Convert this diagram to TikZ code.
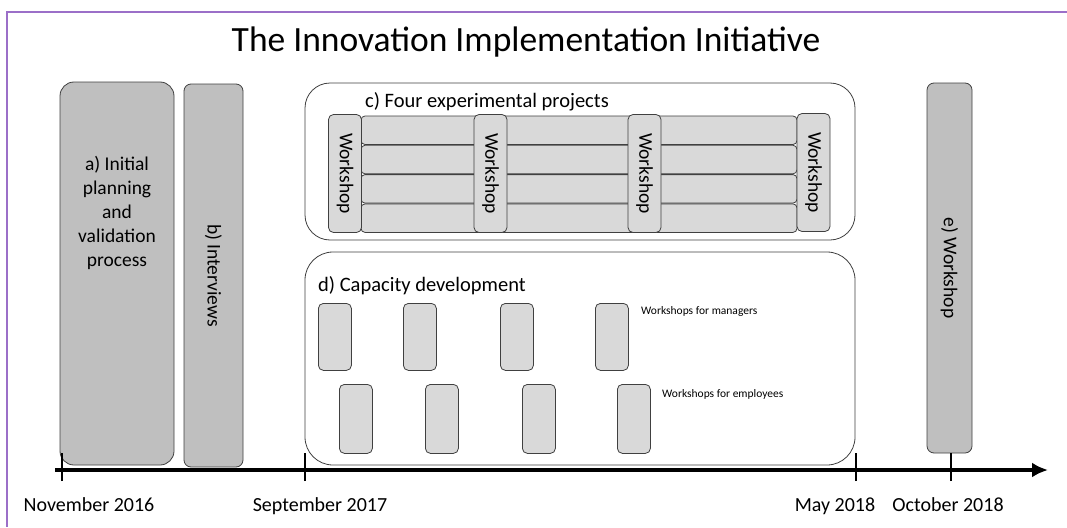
\documentclass[tikz,border=0pt]{standalone}
\usepackage{fontspec}
\setmainfont{Carlito}
\usetikzlibrary{shapes,arrows.meta,positioning}

\definecolor{darkfill}{HTML}{BFBFBF}
\definecolor{lightfill}{HTML}{D9D9D9}
\definecolor{edge}{HTML}{404040}
\definecolor{framecol}{HTML}{9B6FC8}

\begin{document}
\begin{tikzpicture}[x=1pt,y=-1pt]
\tikzset{
phase/.style={rectangle,rounded corners=14pt,draw=edge,fill=darkfill,thick,inner sep=0pt,font=\fontsize{19.5}{24}\selectfont},
slim/.style={rectangle,rounded corners=7pt,draw=edge,fill=darkfill,thick,inner sep=0pt,font=\fontsize{19.5}{24}\selectfont},
group/.style={rectangle,rounded corners=25pt,draw=edge,fill=white,thick,inner sep=0pt},
project/.style={rectangle,rounded corners=4pt,draw=edge,fill=lightfill,thick,inner sep=0pt,minimum width=436pt,minimum height=28.5pt},
wshop/.style={rectangle,rounded corners=5pt,draw=edge,fill=lightfill,thick,inner sep=0pt,rotate=-90,minimum width=118pt,minimum height=33pt,font=\fontsize{19.5}{22}\selectfont},
session/.style={rectangle,rounded corners=5pt,draw=edge,fill=lightfill,thick,inner sep=0pt,minimum width=33pt,anchor=north west},
grouptitle/.style={anchor=west,inner sep=0pt,font=\fontsize{20.5}{24}\selectfont},
smalllabel/.style={anchor=west,inner sep=0pt,font=\fontsize{11.5}{14}\selectfont},
datelabel/.style={anchor=base,inner sep=0pt,font=\fontsize{20}{22}\selectfont},
timeline/.style={-{Latex[length=16pt,width=15pt]},line width=3.5pt},
tick/.style={line width=1.3pt},
}
\useasboundingbox (0,0) rectangle (1067,527);
% frame of the slide
\draw[framecol,line width=1.2pt] (1067,12) -- (7,12) -- (7,527);

\node[anchor=base,font=\fontsize{35.5}{40}\selectfont] (title) at (526,52) {The Innovation Implementation Initiative};

% a) and b)
\node [phase, minimum width=114pt, minimum height=383pt] (planning) at (117,273.5) {};
\node [align=center, font=\fontsize{19.5}{24}\selectfont, inner sep=0pt] (planningtext) at (117,213) {a) Initial\\planning\\and\\validation\\process};
\node [slim, rotate=-90, minimum width=383pt, minimum height=59pt] (interviews) at (213.5,275.5) {b) Interviews};

% c) four experimental projects
\node [group, minimum width=550pt, minimum height=157pt] (projects) at (580,161.5) {};
\node [grouptitle] (projectstitle) at (365,102) {c) Four experimental projects};
\node [project] (proj1) at (579,130.25) {};
\node [project, below=0pt of proj1] (proj2) {};
\node [project, below=0pt of proj2] (proj3) {};
\node [project, below=0pt of proj3] (proj4) {};
\node [wshop] (ws1) at (345,173.5) {Workshop};
\node [wshop] (ws2) at (490.5,173.5) {Workshop};
\node [wshop] (ws3) at (644.5,173.5) {Workshop};
\node [wshop] (ws4) at (813.5,172.5) {Workshop};

% d) capacity development
\node [group, rounded corners=28pt, minimum width=550pt, minimum height=213pt] (capacity) at (580,358.5) {};
\node [grouptitle] (capacitytitle) at (318,286) {d) Capacity development};
\node [session, minimum height=67pt] (man1) at (318,303) {};
\node [session, minimum height=67pt] (man2) at (403,303) {};
\node [session, minimum height=67pt] (man3) at (500,303) {};
\node [session, minimum height=67pt] (man4) at (595,303) {};
\node [smalllabel] (manlabel) at (641,311) {Workshops for managers};
\node [session, minimum height=69pt] (emp1) at (339,384) {};
\node [session, minimum height=69pt] (emp2) at (425,384) {};
\node [session, minimum height=69pt] (emp3) at (522,384) {};
\node [session, minimum height=69pt] (emp4) at (617,384) {};
\node [smalllabel] (emplabel) at (662,394) {Workshops for employees};

% e)
\node [slim, rotate=-90, minimum width=370pt, minimum height=45pt] (final) at (949.5,268) {e) Workshop};

% timeline
\coordinate (tstart) at (55,470);
\coordinate (tend) at (1048,470);
\draw[timeline] (tstart) -- (tend);
\coordinate (nov16) at (62,470);
\coordinate (sep17) at (305,470);
\coordinate (may18) at (856,470);
\coordinate (oct18) at (951,470);
\draw[tick] ([yshift=-11pt]nov16) -- ([yshift=17pt]nov16);
\draw[tick] ([yshift=-11pt]sep17) -- ([yshift=17pt]sep17);
\draw[tick] ([yshift=-11pt]may18) -- ([yshift=17pt]may18);
\draw[tick] ([yshift=-11pt]oct18) -- ([yshift=17pt]oct18);
\node [datelabel] (nov16label) at (89,511) {November 2016};
\node [datelabel] (sep17label) at (320,511) {September 2017};
\node [datelabel] (may18label) at (835,511) {May 2018};
\node [datelabel] (oct18label) at (948,511) {October 2018};
\end{tikzpicture}
\end{document}
